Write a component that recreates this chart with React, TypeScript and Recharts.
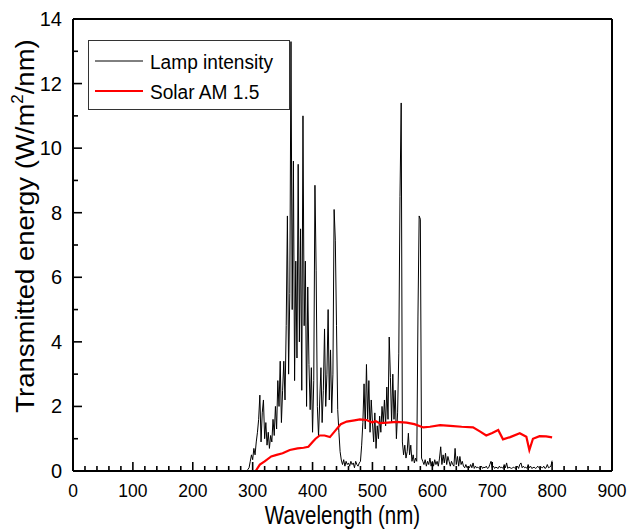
import React from 'react';
import { LineChart, Line, XAxis, YAxis, Legend } from 'recharts';

const FONT = '"Liberation Sans", Arial, Helvetica, sans-serif';

// axis ticks
const xTicks = [0, 20, 40, 60, 80, 100, 120, 140, 160, 180, 200, 220, 240, 260, 280, 300, 320, 340, 360, 380, 400, 420, 440, 460, 480, 500, 520, 540, 560, 580, 600, 620, 640, 660, 680, 700, 720, 740, 760, 780, 800, 820, 840, 860, 880, 900];
const xLabels = [0, 100, 200, 300, 400, 500, 600, 700, 800, 900];
const yTicks = [0, 1, 2, 3, 4, 5, 6, 7, 8, 9, 10, 11, 12, 13, 14];
const yLabels = [0, 2, 4, 6, 8, 10, 12, 14];

// lamp spectrum, sampled every 2 nm from 290 nm
const lampStart = 290;
const lampStep = 2;
const lampIntensity = [
  0, 0.05, 0.1, 0.3, 0.5,
  0.35, 0.7, 0.5, 0.9, 1.2, 1.6, 2.35, 0.9, 1.8, 2.2,
  1.0, 1.5, 0.8, 1.2, 0.7, 1.1, 0.9, 1.6, 1.1, 2.0,
  1.3, 2.8, 2.0, 3.4, 1.5, 2.5, 3.4, 2.2, 4.5, 7.9,
  3.0, 5.5, 13.3, 5.0, 9.6, 2.8, 6.5, 3.5, 9.5, 4.0,
  7.5, 2.5, 11.0, 4.5, 6.5, 2.0, 5.7, 3.3, 1.9, 3.2,
  1.2, 2.8, 8.85, 6.2, 2.0, 1.06, 2.2, 3.2, 1.5, 2.5,
  4.4, 2.0, 3.0, 5.0, 2.2, 3.75, 1.8, 3.0, 8.1, 7.15,
  4.5, 1.9, 1.2, 0.6, 0.34, 0.2, 0.35, 0.15, 0.3, 0.2,
  0.25, 0.15, 0.3, 0.2, 0.25, 0.1, 0.3, 0.2, 0.15, 0.25,
  0.3, 0.8, 1.5, 2.7, 1.3, 3.3, 1.6, 2.8, 1.2, 2.2,
  1.5, 0.9, 1.8, 0.7, 1.4, 1.0, 1.7, 1.2, 2.0, 1.5,
  2.2, 1.4, 2.6, 1.6, 4.15, 2.9, 1.5, 3.0, 1.6, 2.5,
  1.0, 1.8, 3.65, 8.5, 11.4, 0.9, 0.5, 0.8, 0.4, 0.6,
  1.17, 0.5, 0.8, 0.3, 0.5, 0.25, 0.4, 0.3, 4.8, 7.9,
  7.8, 0.4, 0.3, 0.2, 0.35, 0.15, 0.3, 0.2, 0.4, 0.15,
  0.3, 0.15, 0.35, 0.2, 0.3, 0.15, 0.4, 0.75, 0.2, 0.5,
  0.25, 0.55, 0.2, 0.45, 0.3, 0.15, 0.3, 0.2, 0.15, 0.7,
  0.2, 0.45, 0.15, 0.45, 0.2, 0.3, 0.15, 0.1, 0.2, 0.1,
  0.15, 0.1, 0.2, 0.1, 0.25, 0.08, 0.15, 0.1, 0.12, 0.08,
  0.1, 0.15, 0.08, 0.12, 0.1, 0.15, 0.08, 0.1, 0.2, 0.3,
  0.1, 0.15, 0.08, 0.12, 0.1, 0.08, 0.15, 0.1, 0.12, 0.08,
  0.2, 0.1, 0.25, 0.08, 0.12, 0.1, 0.08, 0.1, 0.12, 0.08,
  0.1, 0.15, 0.08, 0.2, 0.25, 0.1, 0.15, 0.1, 0.12, 0.08,
  0.2, 0.1, 0.15, 0.08, 0.1, 0.12, 0.08, 0.1, 0.15, 0.1,
  0.08, 0.12, 0.1, 0.15, 0.08, 0.1, 0.2, 0.1, 0.12, 0.15,
  0.32,
];

// solar AM 1.5 reference
const solarNm = [305, 312, 320, 331, 340, 350, 362, 375, 385, 393, 400, 405, 412, 420, 429, 438, 447, 457, 470, 479, 490, 500, 505, 512, 525, 540, 557, 570, 585, 596, 613, 630, 649, 668, 680, 690, 700, 710, 718, 730, 746, 757, 762, 768, 779, 790, 800];
const solarValue = [0, 0.2, 0.3, 0.45, 0.5, 0.55, 0.65, 0.7, 0.72, 0.75, 0.9, 1.0, 1.1, 1.1, 1.05, 1.25, 1.45, 1.53, 1.57, 1.6, 1.58, 1.5, 1.55, 1.48, 1.5, 1.52, 1.5, 1.45, 1.35, 1.37, 1.42, 1.4, 1.37, 1.35, 1.22, 1.1, 1.18, 1.27, 0.98, 1.05, 1.17, 1.06, 0.65, 1.0, 1.08, 1.07, 1.04];

const lampData = lampIntensity.map((v, i) => ({ nm: lampStart + i * lampStep, v }));
const solarData = solarNm.map((nm, i) => ({ nm, v: solarValue[i] }));

const axisLine = { stroke: '#000', strokeWidth: 2 };

function BottomTick(props: any) {
  const { x, y, payload } = props;
  const major = xLabels.includes(payload.value);
  return (
    <g>
      <line x1={x} x2={x} y1={y} y2={y - (major ? 9 : 5)} stroke="#000" strokeWidth={1.6} />
      {major && (
        <text transform={`translate(${x} ${y + 26}) scale(0.92 1)`} textAnchor="middle" fontSize={19} fontFamily={FONT} fill="#000">
          {payload.value}
        </text>
      )}
    </g>
  );
}

function TopTick(props: any) {
  const { x, y, payload } = props;
  const major = xLabels.includes(payload.value);
  return <line x1={x} x2={x} y1={y} y2={y + (major ? 9 : 5)} stroke="#000" strokeWidth={1.6} />;
}

function LeftTick(props: any) {
  const { x, y, payload } = props;
  const major = yLabels.includes(payload.value);
  return (
    <g>
      <line x1={x} x2={x + (major ? 9 : 5)} y1={y} y2={y} stroke="#000" strokeWidth={1.6} />
      {major && (
        <text x={x - 11} y={y + 7} textAnchor="end" fontSize={20} fontFamily={FONT} fill="#000">
          {payload.value}
        </text>
      )}
    </g>
  );
}

function RightTick(props: any) {
  const { x, y, payload } = props;
  const major = yLabels.includes(payload.value);
  return <line x1={x} x2={x - (major ? 9 : 5)} y1={y} y2={y} stroke="#000" strokeWidth={1.6} />;
}

function XTitle(props: any) {
  const vb = props.viewBox;
  return (
    <text transform={`translate(${vb.x + vb.width / 2} ${vb.y + 53}) scale(0.82 1)`} textAnchor="middle" fontSize={25} fontFamily={FONT} fill="#000">
      Wavelength (nm)
    </text>
  );
}

function YTitle(props: any) {
  const vb = props.viewBox;
  return (
    <text transform={`translate(${vb.x + 34} ${vb.y + vb.height / 2 - 19}) rotate(-90) scale(1 0.96)`} textAnchor="middle" fontSize={27.5} fontFamily={FONT} fill="#000">
      Transmitted energy (W/m<tspan fontSize={17} dy={-11}>2</tspan><tspan dy={11}>/nm)</tspan>
    </text>
  );
}

function LegendBox() {
  return (
    <svg width={202} height={70} style={{ display: 'block' }}>
      <rect x={0.5} y={0.5} width={201} height={69} fill="#fff" stroke="#333" strokeWidth={1} />
      <line x1={7} x2={55} y1={21} y2={21} stroke="#000" strokeWidth={1} />
      <line x1={7} x2={55} y1={51} y2={51} stroke="#ff0000" strokeWidth={2} />
      <text transform="translate(62 28.5) scale(0.91 1)" fontSize={21} fontFamily={FONT} fill="#000">Lamp intensity</text>
      <text transform="translate(62 58.5) scale(0.91 1)" fontSize={21} fontFamily={FONT} fill="#000">Solar AM 1.5</text>
    </svg>
  );
}

export default function App() {
  return (
    <div style={{ position: 'absolute', left: 0, top: 0, background: '#fff' }}>
      <LineChart width={628} height={530} margin={{ top: 0, right: 0, bottom: 0, left: 0 }}>
        <XAxis
          dataKey="nm"
          type="number"
          domain={[0, 900]}
          ticks={xTicks}
          interval={0}
          height={59}
          tickSize={0}
          tickMargin={0}
          tickLine={false}
          axisLine={axisLine}
          tick={<BottomTick />}
          label={<XTitle />}
        />
        <XAxis
          xAxisId="top"
          orientation="top"
          dataKey="nm"
          type="number"
          domain={[0, 900]}
          ticks={xTicks}
          interval={0}
          height={19}
          tickSize={0}
          tickMargin={0}
          tickLine={false}
          axisLine={axisLine}
          tick={<TopTick />}
        />
        <YAxis
          type="number"
          domain={[0, 14]}
          ticks={yTicks}
          interval={0}
          width={73}
          tickSize={0}
          tickMargin={0}
          tickLine={false}
          axisLine={axisLine}
          tick={<LeftTick />}
          label={<YTitle />}
        />
        <YAxis
          yAxisId="right"
          orientation="right"
          type="number"
          domain={[0, 14]}
          ticks={yTicks}
          interval={0}
          width={16}
          tickSize={0}
          tickMargin={0}
          tickLine={false}
          axisLine={axisLine}
          tick={<RightTick />}
        />
        <Legend
          layout="horizontal"
          verticalAlign="middle"
          align="center"
          wrapperStyle={{ left: 88, top: 40, width: 202, height: 70 }}
          content={() => <LegendBox />}
        />
        <Line data={lampData} dataKey="v" name="Lamp intensity" type="linear" stroke="#000" strokeWidth={1} dot={false} isAnimationActive={false} />
        <Line data={solarData} dataKey="v" name="Solar AM 1.5" type="linear" stroke="#ff0000" strokeWidth={2.2} dot={false} isAnimationActive={false} />
      </LineChart>
    </div>
  );
}
